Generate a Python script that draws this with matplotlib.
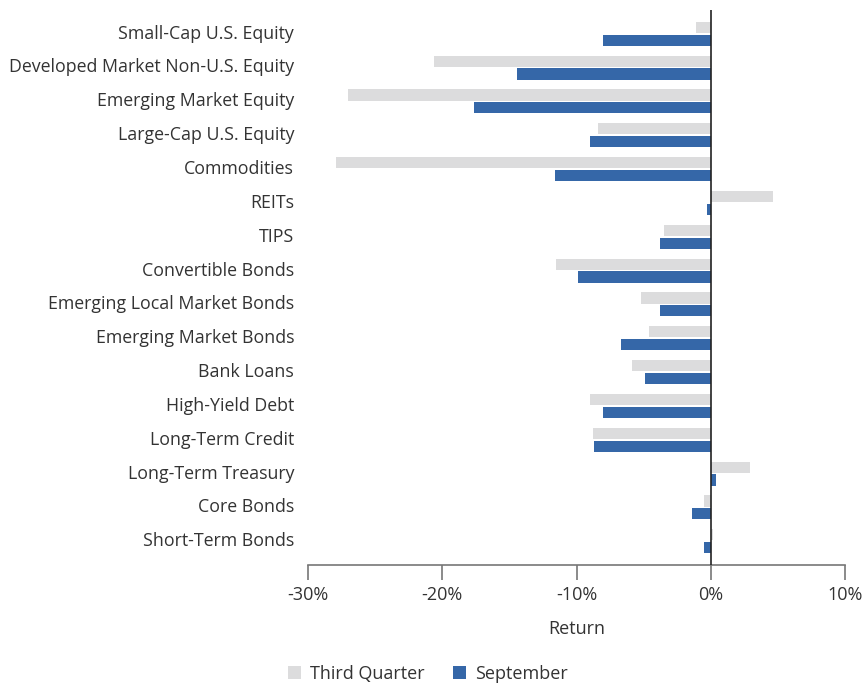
import numpy as np
import matplotlib
matplotlib.use("Agg")
import matplotlib.pyplot as plt

plt.rcParams['font.family'] = ['Open Sans', 'DejaVu Sans']

categories = [
    "Small-Cap U.S. Equity",
    "Developed Market Non-U.S. Equity",
    "Emerging Market Equity",
    "Large-Cap U.S. Equity",
    "Commodities",
    "REITs",
    "TIPS",
    "Convertible Bonds",
    "Emerging Local Market Bonds",
    "Emerging Market Bonds",
    "Bank Loans",
    "High-Yield Debt",
    "Long-Term Credit",
    "Long-Term Treasury",
    "Core Bonds",
    "Short-Term Bonds",
]
third_quarter = [-1.1, -20.6, -27.0, -8.4, -27.9, 4.6, -3.5, -11.5,
                 -5.2, -4.6, -5.9, -9.0, -8.8, 2.9, -0.5, 0.2]
september = [-8.0, -14.4, -17.6, -9.0, -11.6, -0.3, -3.8, -9.9,
             -3.8, -6.7, -4.9, -8.0, -8.7, 0.4, -1.4, -0.5]
xticks = [-30, -20, -10, 0, 10]

gray = "#dcdcdd"
blue = "#3567a8"
text_col = "#333333"

fig = plt.figure(figsize=(8.64, 6.86), dpi=100)
ax = fig.add_axes([308 / 864, 1 - 565 / 686, (845 - 308) / 864, (565 - 10) / 686])

y = np.arange(len(categories))
h = 0.33
ax.barh(y - 0.19, third_quarter, height=h, color=gray, label="Third Quarter")
ax.barh(y + 0.19, september, height=h, color=blue, label="September")

ax.axvline(0, color="#222222", lw=1.2, zorder=3)

ax.set_xlim(-30, 10)
ax.set_ylim(len(categories) - 0.3, -0.7)
ax.set_xticks(xticks)
ax.set_xticklabels([f"{t}%" for t in xticks])
ax.set_yticks(y - 0.06)
ax.set_yticklabels(categories)

for s in ["top", "right", "left"]:
    ax.spines[s].set_visible(False)
ax.spines["bottom"].set_color("#777777")
ax.spines["bottom"].set_linewidth(1.2)
ax.tick_params(axis="x", direction="out", length=11, width=1.2, color="#777777",
               labelsize=13, labelcolor=text_col, pad=4)
ax.tick_params(axis="y", length=0, labelsize=12.8, labelcolor=text_col, pad=10)
ax.set_xlabel("Return", fontsize=13, color=text_col, labelpad=12)

fig.legend(loc="center", bbox_to_anchor=(428 / 864, 1 - 674 / 686), ncol=2,
           frameon=False, fontsize=13, handlelength=0.7, handleheight=0.7,
           handletextpad=0.5, columnspacing=1.6, labelcolor=text_col)

fig.savefig("out.png", dpi=100)
